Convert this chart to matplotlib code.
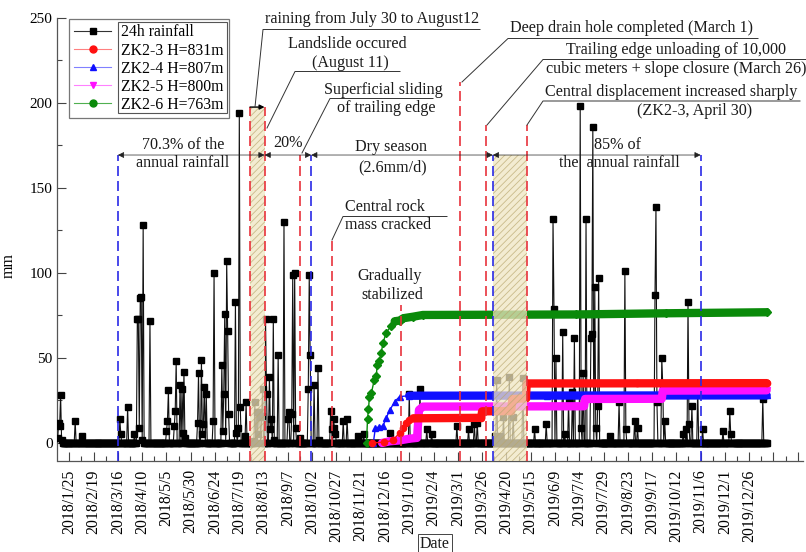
import numpy as np
import pandas as pd
import matplotlib
matplotlib.use("Agg")
import matplotlib.pyplot as plt
import matplotlib.dates as mdates
from matplotlib.lines import Line2D
from matplotlib.patches import Rectangle
from matplotlib.ticker import FixedLocator, MultipleLocator

plt.rcParams['font.family'] = ['Liberation Serif', 'DejaVu Serif']
plt.rcParams['hatch.linewidth'] = 0.6

# ---------------- data ----------------
rain_start = "2018-01-13"
rain_end = "2020-01-13"
rain_event_dates = [
    "2018-01-13", "2018-01-14", "2018-01-15", "2018-01-16", "2018-01-17", "2018-01-31",
    "2018-02-07", "2018-03-18", "2018-03-19", "2018-03-26", "2018-04-02", "2018-04-05",
    "2018-04-06", "2018-04-07", "2018-04-08", "2018-04-09", "2018-04-10", "2018-04-11",
    "2018-04-18", "2018-05-05", "2018-05-06", "2018-05-07", "2018-05-13", "2018-05-14",
    "2018-05-15", "2018-05-19", "2018-05-21", "2018-05-22", "2018-05-23", "2018-05-24",
    "2018-06-06", "2018-06-07", "2018-06-10", "2018-06-11", "2018-06-12", "2018-06-13",
    "2018-06-15", "2018-06-22", "2018-06-23", "2018-07-01", "2018-07-02", "2018-07-03",
    "2018-07-04", "2018-07-06", "2018-07-07", "2018-07-08", "2018-07-15", "2018-07-16",
    "2018-07-18", "2018-07-19", "2018-07-20", "2018-07-25", "2018-07-26", "2018-08-03",
    "2018-08-04", "2018-08-06", "2018-08-07", "2018-08-08", "2018-08-09", "2018-08-11",
    "2018-08-12", "2018-08-15", "2018-08-16", "2018-08-19", "2018-08-20", "2018-08-21",
    "2018-08-23", "2018-08-24", "2018-08-28", "2018-09-03", "2018-09-07", "2018-09-08",
    "2018-09-11", "2018-09-12", "2018-09-14", "2018-09-15", "2018-09-19", "2018-09-28",
    "2018-09-29", "2018-09-30", "2018-10-04", "2018-10-08", "2018-10-09", "2018-10-21",
    "2018-10-22", "2018-10-24", "2018-10-25", "2018-10-26", "2018-11-03", "2018-11-07",
    "2018-11-18", "2018-11-24", "2018-12-21", "2019-01-10", "2019-01-21", "2019-01-28",
    "2019-02-02", "2019-02-28", "2019-03-12", "2019-03-18", "2019-03-21", "2019-04-08",
    "2019-04-10", "2019-04-13", "2019-04-17", "2019-04-23", "2019-04-27", "2019-05-07",
    "2019-05-19", "2019-05-31", "2019-06-07", "2019-06-08", "2019-06-10", "2019-06-17",
    "2019-06-19", "2019-06-23", "2019-06-27", "2019-06-29", "2019-07-05", "2019-07-06",
    "2019-07-08", "2019-07-11", "2019-07-16", "2019-07-17", "2019-07-18", "2019-07-20",
    "2019-07-21", "2019-07-23", "2019-07-24", "2019-08-05", "2019-08-14", "2019-08-20",
    "2019-08-21", "2019-08-30", "2019-09-02", "2019-09-20", "2019-09-21", "2019-09-22",
    "2019-09-27", "2019-09-28", "2019-09-30", "2019-10-19", "2019-10-22", "2019-10-24",
    "2019-10-25", "2019-10-28", "2019-11-03", "2019-11-08", "2019-11-29", "2019-12-06",
    "2019-12-07", "2020-01-09",
]
rain_event_values = [
    3, 12, 10, 28, 2, 13,
    4, 14, 5, 21, 5, 73,
    73, 9, 85, 86, 2, 128,
    72, 7, 13, 31, 10, 19,
    48, 34, 32, 6, 42, 3,
    12, 41, 49, 5, 11, 33,
    29, 13, 100, 46, 7, 29,
    76, 107, 66, 17, 83, 6,
    9, 194, 21, 4, 24, 1,
    24, 18, 5, 18, 15, 16,
    32, 73, 29, 39, 8, 14,
    73, 2, 52, 130, 14, 18,
    17, 99, 100, 9, 3, 32,
    99, 52, 34, 44, 2, 19,
    8, 14, 9, 5, 13, 14,
    4, 5, 6, 29, 32, 8,
    5, 10, 8, 11, 12, 4,
    37, 4, 15, 39, 15, 38,
    8, 11, 132, 79, 50, 65,
    5, 24, 30, 62, 198, 9,
    41, 132, 62, 64, 186, 92,
    9, 22, 97, 4, 24, 101,
    8, 13, 9, 87, 139, 24,
    50, 34, 13, 5, 8, 83,
    11, 22, 33, 8, 7, 19,
    5, 26,
]

zk23_dates = ["2018-12-03", "2018-12-15", "2018-12-24", "2018-12-31", "2019-01-04", "2019-01-07",
              "2019-01-10", "2019-01-14", "2019-03-25", "2019-03-26", "2019-04-25", "2019-04-26",
              "2019-05-10", "2019-05-11", "2019-09-01", "2020-01-13"]
zk23_values = [0, 0.5, 1.5, 6, 9, 11.6, 13.5, 14.5, 14.8, 18.6, 18.8, 25.8, 26.3, 35.0, 35.1, 35.2]

zk24_dates = ["2018-12-04", "2018-12-06", "2018-12-10", "2018-12-14", "2018-12-17", "2018-12-21",
              "2018-12-26", "2018-12-31", "2019-01-10", "2019-06-01", "2020-01-13"]
zk24_values = [0, 8.6, 9.6, 10, 14.5, 19.4, 24.3, 27.3, 27.8, 27.9, 28.0]

zk25_dates = ["2018-12-13", "2018-12-21", "2018-12-31", "2019-01-10", "2019-01-18", "2019-01-20",
              "2019-01-24", "2019-07-09", "2019-07-10", "2019-09-27", "2019-09-28", "2020-01-13"]
zk25_values = [0, 1, 1.5, 2.5, 3, 19.4, 21.4, 21.6, 25.9, 26.0, 30.8, 31.0]

zk26_dates = ["2018-11-27", "2018-11-28", "2018-11-29", "2018-11-30", "2018-12-02", "2018-12-05",
              "2018-12-07", "2018-12-08", "2018-12-10", "2018-12-12", "2018-12-14", "2018-12-17",
              "2018-12-22", "2018-12-26", "2018-12-31", "2019-01-04", "2019-01-14", "2019-01-24",
              "2019-07-01", "2019-10-01", "2020-01-13"]
zk26_values = [0, 14, 20, 27.3, 29.4, 37.3, 39.2, 46, 48, 52.9, 58.8, 64.7,
               68.6, 71.6, 72, 73.4, 74.3, 75.3, 75.6, 76.3, 76.9]

tick_labels = ["2018/1/25", "2018/2/19", "2018/3/16", "2018/4/10", "2018/5/5", "2018/5/30",
               "2018/6/24", "2018/7/19", "2018/8/13", "2018/9/7", "2018/10/2", "2018/10/27",
               "2018/11/21", "2018/12/16", "2019/1/10", "2019/2/4", "2019/3/1", "2019/3/26",
               "2019/4/20", "2019/5/15", "2019/6/9", "2019/7/4", "2019/7/29", "2019/8/23",
               "2019/9/17", "2019/10/12", "2019/11/6", "2019/12/1", "2019/12/26"]
extra_ticks = ["2020/1/20", "2020/2/14"]

# event lines: (date, top value, colour key)
event_dates = ["2018-03-16", "2018-07-30", "2018-08-14", "2018-09-19", "2018-10-01", "2018-10-22",
               "2019-01-01", "2019-03-03", "2019-03-30", "2019-04-06", "2019-05-11", "2019-11-06"]
event_tops = [169.4, 197.6, 197.6, 169.4, 169.4, 119.4, 81.2, 212.4, 187.0, 169.4, 187.0, 169.4]
event_kinds = ["b", "r", "r", "r", "b", "r", "r", "r", "r", "b", "r", "b"]

band_starts = ["2018-07-30", "2019-04-06"]
band_ends = ["2018-08-14", "2019-05-11"]
band_tops = [197.6, 169.4]

span_edges = ["2018-03-16", "2018-08-14", "2018-10-01", "2019-04-06", "2019-11-06"]
span_level = 169.4

# ---------------- figure ----------------
W, H = 806, 552
fig = plt.figure(figsize=(W / 100, H / 100), dpi=100)
ax = fig.add_axes([57.5 / W, 1 - 461 / H, (803 - 57.5) / W, (461 - 18) / H])

YMIN, YMAX = -10.6, 250

# rainfall daily series
days = pd.date_range(rain_start, rain_end, freq="D")
rain = pd.Series(0.0, index=days)
rain.loc[pd.to_datetime(rain_event_dates)] = rain_event_values

ax.plot(rain.index, rain.values, color="#111111", lw=0.8, marker="s", ms=3.8,
        mfc="black", mec="black", zorder=3)

def series(dates, vals, color, marker, ms, thick_from):
    d = pd.to_datetime(dates)
    ax.plot(d, vals, color=color, lw=1.0, marker=marker, ms=ms, mfc=color, mec=color, zorder=4)
    ax.plot(d[thick_from:], vals[thick_from:], color=color, lw=6, solid_capstyle="round", zorder=4)

series(zk26_dates, zk26_values, "#0a8a0a", "D", 4.4, 13)
series(zk24_dates, zk24_values, "#1010ff", "^", 5, 8)
series(zk25_dates, zk25_values, "#ff10ff", "v", 5, 0)
series(zk23_dates, zk23_values, "#ff1010", "o", 4.5, 7)

# hatched bands
for s, e, t in zip(band_starts, band_ends, band_tops):
    x0 = mdates.date2num(pd.Timestamp(s))
    x1 = mdates.date2num(pd.Timestamp(e))
    ax.add_patch(Rectangle((x0, YMIN), x1 - x0, t - YMIN, facecolor=(0.94, 0.90, 0.76, 0.75),
                           edgecolor="none", zorder=5))
    ax.add_patch(Rectangle((x0, YMIN), x1 - x0, t - YMIN, facecolor="none", hatch="/////",
                           edgecolor=(0.72, 0.65, 0.42, 0.7), lw=0, zorder=5))

# event lines
cols = {"r": "#e8323c", "b": "#2a2ae6"}
for d, t, k in zip(event_dates, event_tops, event_kinds):
    ax.vlines(pd.Timestamp(d), YMIN, t, colors=cols[k], linestyles=(0, (6, 3)), lw=1.2, zorder=6)

# bar on top of first band
ax.annotate("", xy=(pd.Timestamp(band_ends[0]), band_tops[0]),
            xytext=(pd.Timestamp(band_starts[0]), band_tops[0]),
            arrowprops=dict(arrowstyle="-|>", color="black", lw=1.0, mutation_scale=7,
                            shrinkA=0, shrinkB=0), zorder=7)

# span arrows
for a, b in zip(span_edges[:-1], span_edges[1:]):
    ax.annotate("", xy=(pd.Timestamp(b), span_level), xytext=(pd.Timestamp(a), span_level),
                arrowprops=dict(arrowstyle="<|-|>", color="#222222", lw=0.5, mutation_scale=9,
                                shrinkA=0, shrinkB=0), zorder=7)

# axes styling
ax.set_ylim(YMIN, YMAX)
ax.set_xlim(mdates.date2num(pd.Timestamp("2018-01-13")) - 0.2,
            mdates.date2num(pd.Timestamp("2020-02-19")) + 0.4)
major = pd.to_datetime(tick_labels + extra_ticks, format="%Y/%m/%d")
ax.xaxis.set_major_locator(FixedLocator(mdates.date2num(major)))
ax.set_xticklabels(tick_labels + ["", ""], rotation=90, fontsize=11.3)
minor = np.concatenate([[mdates.date2num(major[0]) - 12.5], mdates.date2num(major) + 12.5])
ax.xaxis.set_minor_locator(FixedLocator(minor))
ax.yaxis.set_major_locator(MultipleLocator(50))
ax.yaxis.set_minor_locator(MultipleLocator(25))
ax.tick_params(axis="both", which="major", direction="in", length=6.5, width=0.8, color="#444444")
ax.tick_params(axis="y", which="major", labelsize=11)
ax.tick_params(axis="both", which="minor", direction="in", length=3.5, width=0.8, color="#444444")
ax.tick_params(axis="x", pad=6)
for sp in ["top", "right"]:
    ax.spines[sp].set_visible(False)
for sp in ["left", "bottom"]:
    ax.spines[sp].set_color("#555555")
    ax.spines[sp].set_linewidth(0.9)
ax.set_ylabel("mm", fontsize=11.5)
ax.yaxis.set_label_coords((17 - 57.5) / 745.5, (461 - 265) / 443)

# legend
handles = [
    Line2D([], [], color="#333333", lw=0.8, marker="s", ms=4, mfc="black", mec="black"),
    Line2D([], [], color="#ff8080", lw=0.8, marker="o", ms=5, mfc="#ff1010", mec="#ff1010"),
    Line2D([], [], color="#8080ff", lw=0.8, marker="^", ms=5, mfc="#1010ff", mec="#1010ff"),
    Line2D([], [], color="#ff80ff", lw=0.8, marker="v", ms=5, mfc="#ff10ff", mec="#ff10ff"),
    Line2D([], [], color="#50b050", lw=0.8, marker="o", ms=5, mfc="#0a8a0a", mec="#0a8a0a"),
]
labels = ["24h rainfall", "ZK2-3 H=831m", "ZK2-4 H=807m", "ZK2-5 H=800m", "ZK2-6 H=763m"]
leg = ax.legend(handles, labels, loc="upper left", bbox_to_anchor=(69 / W, 1 - 19 / H),
                bbox_transform=fig.transFigure, borderaxespad=0, fontsize=11.3, frameon=True,
                fancybox=False, edgecolor="#555555", labelspacing=0.13, borderpad=0.35,
                handlelength=2.3, handletextpad=0.65)
leg.get_frame().set_linewidth(0.9)
leg.set_zorder(10)
fig.add_artist(Rectangle((118 / W, 1 - 113 / H), 109 / W, 91 / H, fill=False, lw=0.8,
                         ec="#555555", transform=fig.transFigure, zorder=11))

# annotations in figure pixel space
TC = "#1a1a1a"
FS = 11.6
def ftext(x, y, s, ha="center", size=FS):
    fig.text(x / W, 1 - y / H, s, ha=ha, va="center", fontsize=size, color=TC, zorder=12)

def fline(pts, lw=0.7):
    xs = [p[0] / W for p in pts]
    ys = [1 - p[1] / H for p in pts]
    fig.add_artist(Line2D(xs, ys, lw=lw, color="#333333", transform=fig.transFigure, zorder=12))

ftext(372, 19, "raining from July 30 to August12")
fline([(255, 107), (263, 29.5), (480, 29.5)])
ftext(347, 44, "Landslide occured")
ftext(350, 63, "(August 11)")
fline([(267, 128), (295, 71.5), (400, 71.5)])
ftext(383, 90, "Superficial sliding")
ftext(386, 108, "of trailing edge")
fline([(302, 153), (330, 98.5), (433, 98.5)])
ftext(510, 28, "Deep drain hole completed (March 1)", ha="left")
fline([(462, 82), (508, 38.5), (758, 38.5)])
ftext(676, 50, "Trailing edge unloading of 10,000")
ftext(676, 69, "cubic meters + slope closure (March 26)")
fline([(487, 125), (543, 59.5), (806, 59.5)])
ftext(671, 92, "Central displacement increased sharply")
ftext(695, 111, "(ZK2-3, April 30)")
fline([(527, 125), (543, 101), (800, 101)])
ftext(345, 207, "Central rock", ha="left")
ftext(345, 225, "mass cracked", ha="left")
fline([(332, 240), (343, 216.5), (447, 216.5)])
ftext(390, 276, "Gradually")
ftext(392, 295, "stabilized")
ftext(183, 145, "70.3% of the")
ftext(183, 163, "annual rainfall")
ftext(288, 143, "20%")
ftext(391, 147, "Dry season")
ftext(393, 167, "(2.6mm/d)")
ftext(617, 145, "85% of")
ftext(619, 163, "the  annual rainfall")

fig.text(435 / W, 1 - 544 / H, "Date", ha="center", va="center", fontsize=11.5, color=TC,
         bbox=dict(boxstyle="square,pad=0.12", fc="white", ec="#444444", lw=0.7), zorder=12)

fig.savefig("out.png", dpi=100)
